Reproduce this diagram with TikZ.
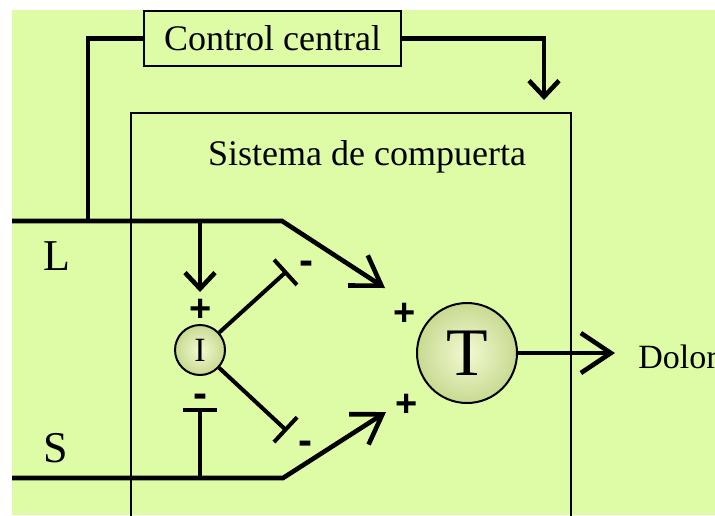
\documentclass[tikz,border=0pt]{standalone}
\usepackage{fontspec}
\setmainfont{Liberation Serif}
\setsansfont{Liberation Sans}
\usetikzlibrary{arrows.meta, positioning}

\definecolor{bgreen}{RGB}{222,252,166}
\definecolor{cellin}{RGB}{242,249,210}
\definecolor{cellout}{RGB}{200,218,145}

\begin{document}
\begin{tikzpicture}[
    x=0.5pt, y=-0.5pt,
    box/.style={rectangle, draw=black, line width=1.2pt, minimum width=128.5pt, minimum height=27.5pt, inner sep=0pt, align=center, font=\fontsize{18}{20}\selectfont},
    cell/.style={circle, draw=black, line width=1pt, inner sep=0pt, inner color=cellin, outer color=cellout},
    line/.style={line width=2.3pt, draw=black},
    arrow/.style={line, -{Straight Barb[length=14pt, width=18pt]}},
    smallarrow/.style={line, -{Straight Barb[length=8pt, width=15pt]}},
    inhib/.style={line width=2pt, draw=black, -{Bar[width=17pt]}},
    sign/.style={font=\fontsize{19}{19}\selectfont\bfseries\sffamily, inner sep=0pt},
    minus/.style={font=\fontsize{21}{21}\selectfont\bfseries\sffamily, inner sep=0pt, text height=9pt, text depth=0pt},
    label/.style={font=\fontsize{18}{20}\selectfont, inner sep=0pt}
]

    % BACKGROUND
    \useasboundingbox (0,0) rectangle (715,515);
    \fill[white] (0,0) rectangle (715,515);
    \fill[bgreen] (12,10) rectangle (715,515);

    % GATE BOX
    \draw[line width=1pt] (131,530) -- (131,113) -- (571,113) -- (571,530);
    \node (gate) [label] at (367,157) {Sistema de compuerta};

    % CONTROL
    \node (ctrl) [box] at (272.5,38.5) {Control central};

    % CELLS
    \node (I) [cell, minimum size=25pt, font=\fontsize{17}{17}\selectfont] at (200,350) {I};
    \node (T) [cell, minimum size=50pt, font=\fontsize{34}{34}\selectfont] at (467,353) {T};

    % FIBRES
    \coordinate (lin) at (12,221);
    \coordinate (ljoin) at (88,221);
    \coordinate (ltoi) at (200,221);
    \coordinate (lbend) at (282,221);
    \coordinate (ltip) at (385,288);
    \coordinate (sin) at (12,478);
    \coordinate (stoi) at (200,478);
    \coordinate (sbend) at (283,478);
    \coordinate (stip) at (386,412);
    \coordinate (itip) at (200,292);
    \coordinate (ibar) at (200,408);
    \coordinate (ubar) at (287,271);
    \coordinate (dbar) at (287,431);
    \coordinate (gtip) at (544,100);
    \coordinate (out) at (615,353);

    \node (L) [label, font=\fontsize{22}{22}\selectfont] at (57,256) {L};
    \node (S) [label, font=\fontsize{22}{22}\selectfont] at (56,448) {S};

    % ROUTING PATHWAYS
    \draw [arrow] (lin) -- (lbend) -- (ltip);
    \draw [arrow] (sin) -- (sbend) -- (stip);
    \draw [line] (ctrl.west) -| (ljoin);
    \draw [smallarrow] (ctrl.east) -| (gtip);
    \draw [smallarrow] (ltoi) -- (itip);
    \draw [inhib] (stoi) -- (ibar);
    \draw [inhib] (I) -- (ubar);
    \draw [inhib] (I) -- (dbar);
    \draw [arrow, -{Straight Barb[length=15pt, width=20pt]}] (T) -- (out);
    \node (dolor) [label, font=\fontsize{17}{19}\selectfont, anchor=west] at (638,357) {Dolor};

    % SIGNS
    \node (p1) [sign] at (201,310) {+};
    \node (m1) [minus] at (200,398) {-};
    \node (m2) [minus] at (306,265) {-};
    \node (m3) [minus] at (305,445) {-};
    \node (p2) [sign] at (405,314) {+};
    \node (p3) [sign] at (407,405) {+};

\end{tikzpicture}
\end{document}
